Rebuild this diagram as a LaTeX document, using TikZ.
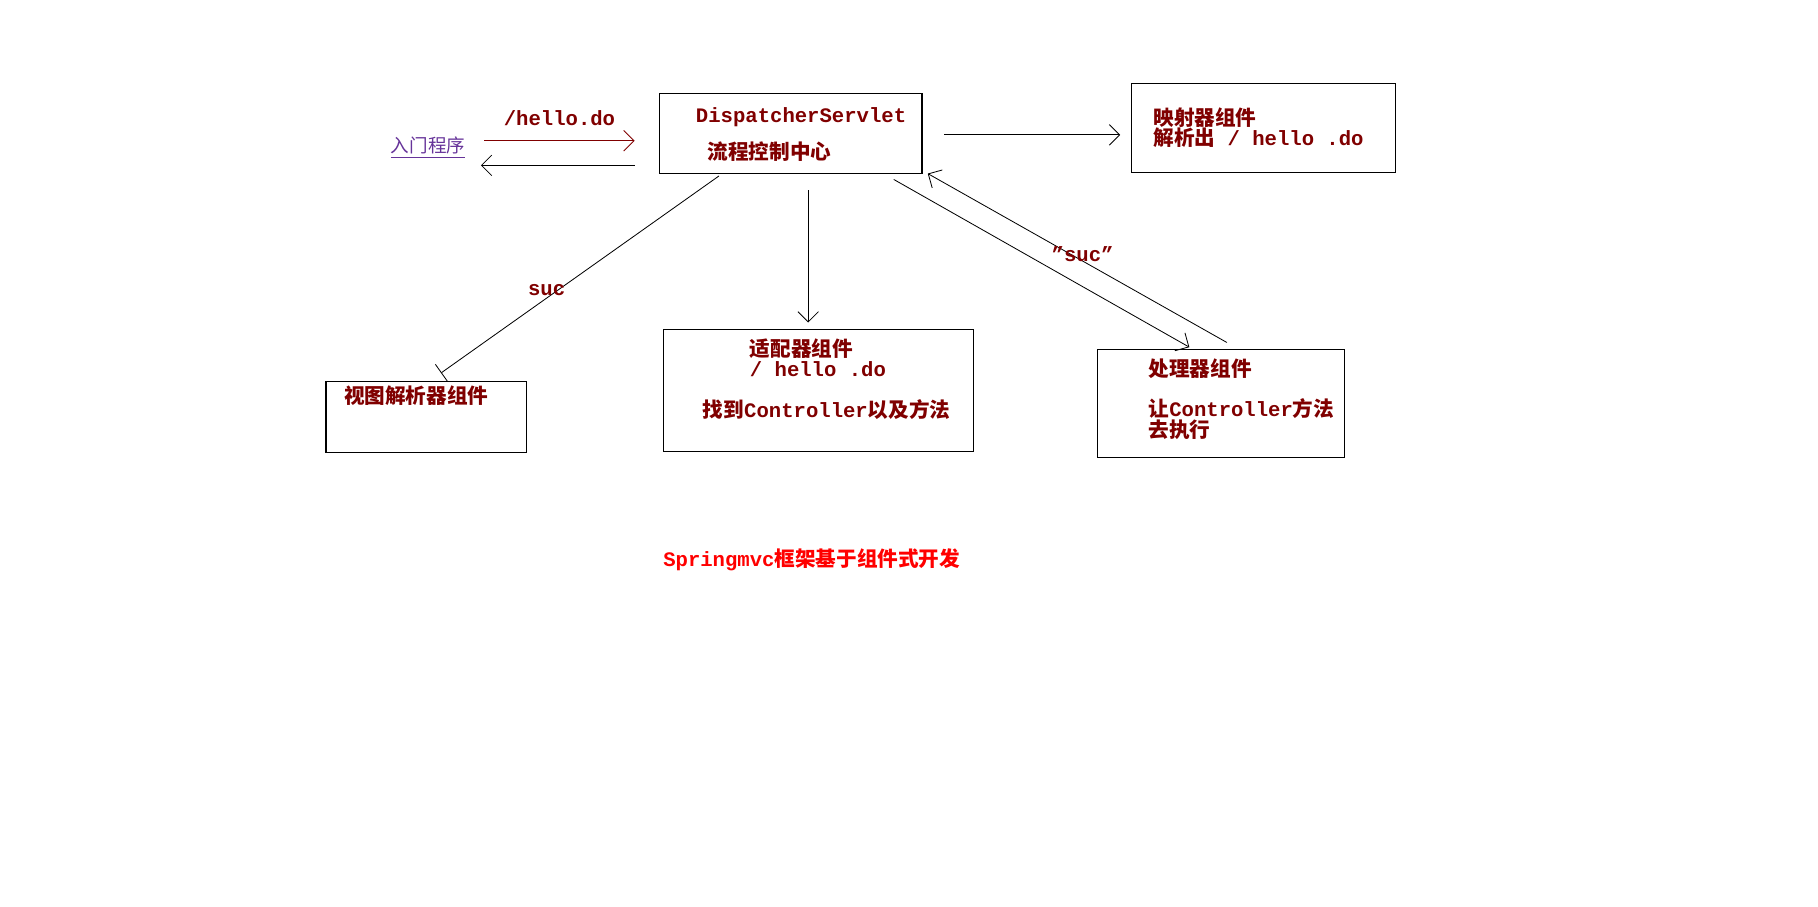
\documentclass[tikz,border=0pt]{standalone}
\usepackage{fontspec}
\setmainfont{Liberation Mono}
\newfontfamily\cjk{Noto Sans CJK SC}
\usetikzlibrary{arrows.meta}
\definecolor{darkred}{RGB}{128,0,0}
\definecolor{linkpurple}{RGB}{102,51,153}
\tikzset{
  box/.style={draw, line width=0.6pt},
  txt/.style={anchor=west, inner sep=0pt, text=darkred, font=\bfseries\fontsize{10}{12}\selectfont},
  flow/.style={line width=0.4pt, -{Straight Barb[length=5pt,width=10pt]}}
}
\begin{document}
\begin{tikzpicture}[x=0.02cm, y=-0.02cm]
        \useasboundingbox (0,0) rectangle (1550,773);
        % boxes
        \draw[box] (562,80) rectangle (786,148);
        \draw[box] (965,71) rectangle (1190,147);
        \draw[box] (278,325) rectangle (449,386);
        \draw[box] (566,281) rectangle (830,385);
        \draw[box] (936,298) rectangle (1146,390);
        \coordinate (ds) at (674,114);

        % texts
        \node[txt] (dsname) at (593,100) {DispatcherServlet};
        \node[txt] (dsinfo) at (603,129) {\cjk 流程控制中心};
        \node[txt] (map1) at (983,100) {\cjk 映射器组件};
        \node[txt] (map2) at (983,117) {{\cjk 解析出} /  hello  .do};
        \node[txt] (view) at (293,337) {\cjk 视图解析器组件};
        \node[txt] (ad1) at (639,297) {\cjk 适配器组件};
        \node[txt] (ad2) at (639,315) {/ hello .do};
        \node[txt] (ad3) at (599,349) {{\cjk 找到}Controller{\cjk 以及方法}};
        \node[txt] (hd1) at (979,314) {\cjk 处理器组件};
        \node[txt] (hd2) at (979,348) {{\cjk 让}Controller{\cjk 方法}};
        \node[txt] (hd3) at (979,366) {\cjk 去执行};
        \node[anchor=west, inner sep=0pt, text=linkpurple, font=\cjk\fontsize{9}{11}\selectfont] (entry) at (333,126) {\underline{入门程序}};
        \node[txt, anchor=center] (title) at (692,477) {\textcolor{red}{Springmvc{\cjk 框架基于组件式开发}}};

        % connectors
        \coordinate (a1) at (413,120); \coordinate (a2) at (541,120);
        \coordinate (b1) at (541,141); \coordinate (b2) at (410,141);
        \draw[flow, darkred] (a1) -- (a2) node[txt, anchor=center, midway, above=7pt] {/hello.do};
        \draw[flow] (b1) -- (b2);
        \coordinate (c1) at (805,115); \coordinate (c2) at (955,115);
        \draw[flow] (c1) -- (c2);
        \coordinate (d1) at (613,150); \coordinate (d2) at (376,318);
        \draw[line width=0.4pt, -{Bar[width=10pt]}] (d1) -- (d2);
        \node[txt, anchor=center] (suc1) at (466,247) {suc};
        \coordinate (e1) at (689,162); \coordinate (e2) at (689,275);
        \draw[flow] (e1) -- (e2);
        \coordinate (f1) at (762,153); \coordinate (f2) at (1014,296);
        \draw[flow] (f1) -- (f2);
        \coordinate (g1) at (1046,292); \coordinate (g2) at (791,148);
        \draw[flow] (g1) -- (g2);
        \node[txt, anchor=center] (suc2) at (923,217) {"suc"};
    \end{tikzpicture}
\end{document}
